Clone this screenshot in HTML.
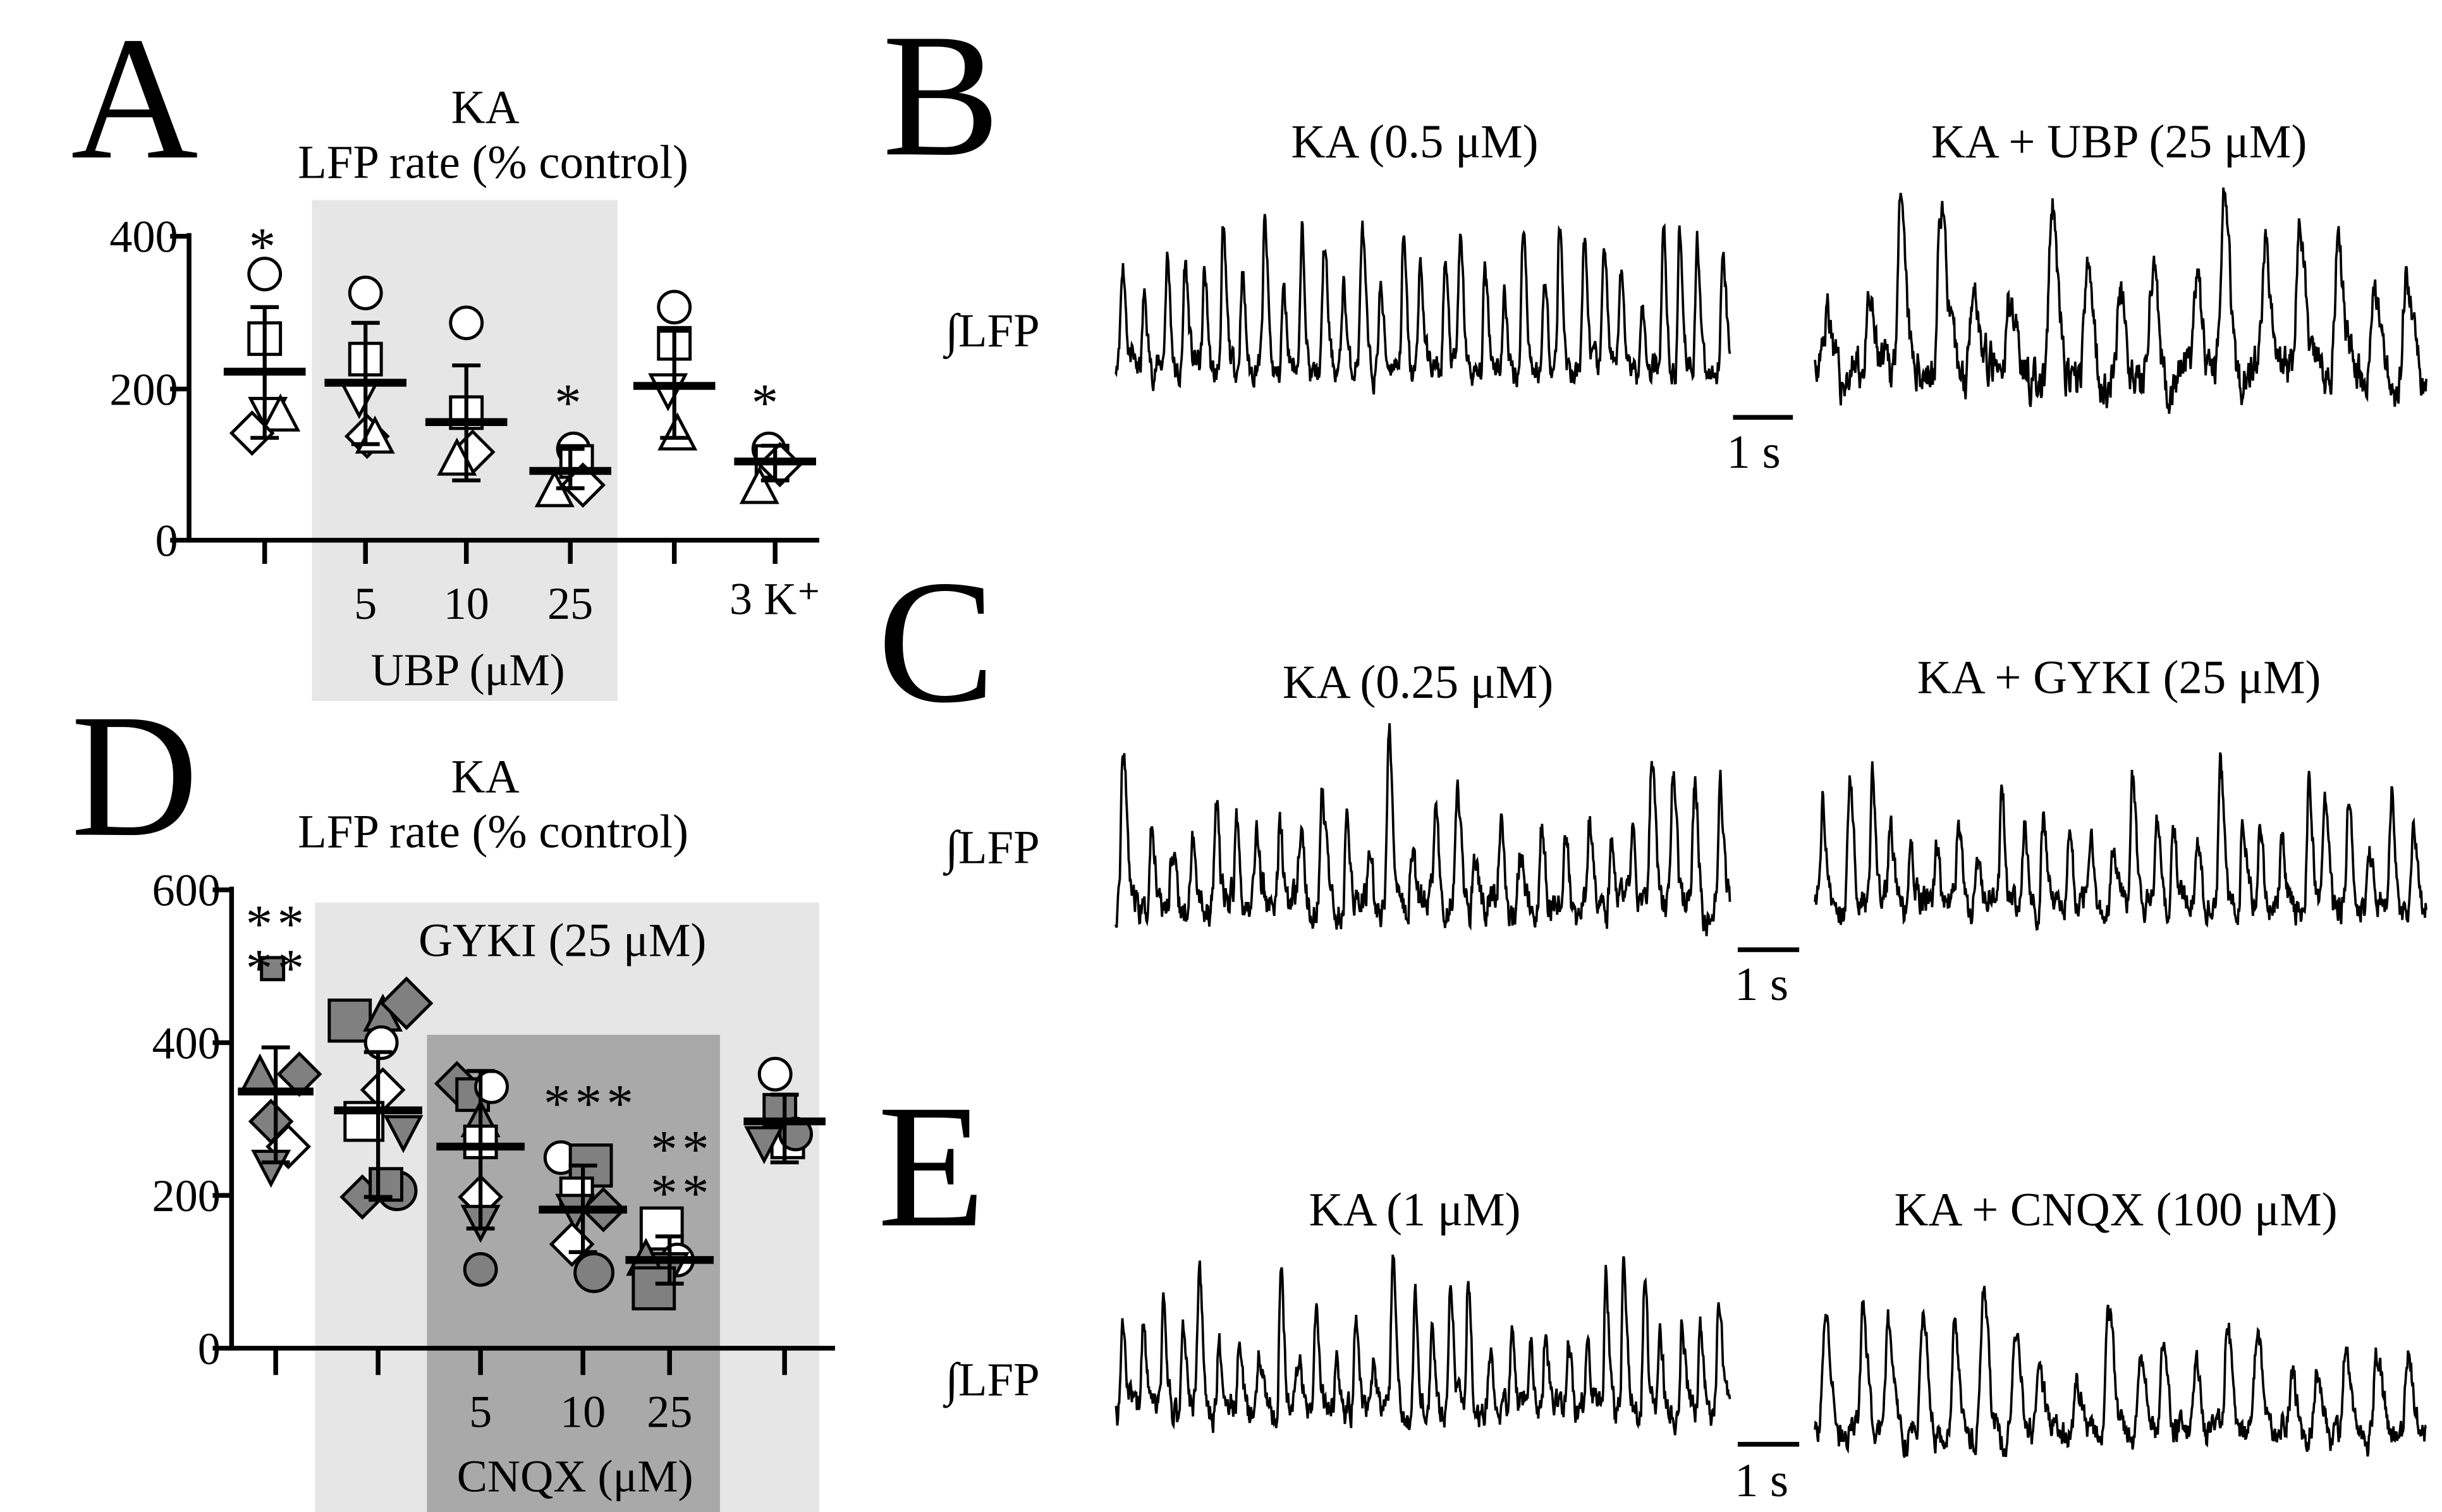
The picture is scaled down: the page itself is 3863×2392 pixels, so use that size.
<!DOCTYPE html>
<html><head><meta charset="utf-8">
<style>html,body{margin:0;padding:0;background:#fff;}svg{display:block;}
text{font-family:"Liberation Serif","Times New Roman",serif;fill:#000;}</style></head>
<body>
<svg id="s" width="3863" height="2392" viewBox="0 0 1550 960" preserveAspectRatio="none" xmlns="http://www.w3.org/2000/svg" font-family="Liberation Serif, serif">
<rect width="1550" height="960" fill="#fff"/>
<text x="45" y="100" font-size="112">A</text>
<text x="308" y="78" font-size="30" text-anchor="middle">KA</text>
<text x="313" y="113" font-size="30" text-anchor="middle">LFP rate (% control)</text>
<rect x="198" y="127" width="194" height="318" fill="#e6e6e6"/>
<g stroke="#000" stroke-width="3" fill="none">
<path d="M120 148V343H520"/>
<path d="M108 150H120M108 247H120M108 343H120"/>
<path d="M168 343V358M232 343V358M296 343V358M362 343V358M428 343V358M492 343V358"/>
</g>
<g font-size="29" text-anchor="end"><text x="113" y="160">400</text><text x="113" y="257">200</text><text x="113" y="353">0</text></g>
<g font-size="29" text-anchor="middle"><text x="232" y="393">5</text><text x="296" y="393">10</text><text x="362" y="393">25</text><text x="492" y="390">3 K⁺</text><text x="297" y="435">UBP (μM)</text></g>
<text x="45" y="530" font-size="112">D</text>
<text x="308" y="503" font-size="30" text-anchor="middle">KA</text>
<text x="313" y="538" font-size="30" text-anchor="middle">LFP rate (% control)</text>
<rect x="200" y="573" width="320" height="387" fill="#e6e6e6"/>
<rect x="271" y="657" width="186" height="303" fill="#a9a9a9"/>
<text x="357" y="607" font-size="30" text-anchor="middle">GYKI (25 μM)</text>
<g stroke="#000" stroke-width="3" fill="none">
<path d="M147 563V856H530"/>
<path d="M135 565H147M135 662H147M135 759H147M135 856H147"/>
<path d="M175 856V873M240 856V873M305 856V873M370 856V873M425 856V873M498 856V873"/>
</g>
<g font-size="29" text-anchor="end"><text x="140" y="575">600</text><text x="140" y="672">400</text><text x="140" y="769">200</text><text x="140" y="866">0</text></g>
<g font-size="29" text-anchor="middle"><text x="305" y="906">5</text><text x="370" y="906">10</text><text x="425" y="906">25</text><text x="365" y="947">CNQX (μM)</text></g>
<g id="marks"></g>
<text x="560" y="98" font-size="112">B</text>
<text x="557" y="445" font-size="112">C</text>
<text x="557" y="778" font-size="112">E</text>
<g font-size="30" text-anchor="middle">
<text x="898" y="100">KA (0.5 μM)</text><text x="1345" y="100">KA + UBP (25 μM)</text>
<text x="900" y="443">KA (0.25 μM)</text><text x="1345" y="440">KA + GYKI (25 μM)</text>
<text x="898" y="778">KA (1 μM)</text><text x="1343" y="778">KA + CNQX (100 μM)</text>
</g>
<g font-size="30"><text x="600" y="220">∫LFP</text><text x="600" y="548">∫LFP</text><text x="600" y="886">∫LFP</text>
<text x="1096" y="297">1 s</text><text x="1101" y="635">1 s</text><text x="1101" y="950">1 s</text></g>
<g stroke="#000" stroke-width="3"><path d="M1100 265H1138M1103 603H1142M1103 917H1142"/></g>
<g id="traces" fill="none" stroke="#000" stroke-width="1.5"></g>
</svg>
<script>
var NS="http://www.w3.org/2000/svg";
var seed=7;function rnd(){seed=(seed*16807)%2147483647;return seed/2147483647;}
function el(p,t,a){var e=document.createElementNS(NS,t);for(var k in a)e.setAttribute(k,a[k]);p.appendChild(e);return e;}
var M=document.getElementById('marks');
function mk(sh,x,y,f,r){r=r||10;var a={fill:f?'#808080':'#fff',stroke:'#000','stroke-width':2};
if(sh=='o'){a.cx=x;a.cy=y;a.r=r;el(M,'circle',a);}
else if(sh=='s'){a.x=x-r;a.y=y-r;a.width=2*r;a.height=2*r;el(M,'rect',a);}
else if(sh=='t'){a.points=(x)+','+(y-r*1.2)+' '+(x-r*1.1)+','+(y+r*0.9)+' '+(x+r*1.1)+','+(y+r*0.9);el(M,'polygon',a);}
else if(sh=='v'){a.points=(x)+','+(y+r*1.2)+' '+(x-r*1.1)+','+(y-r*0.9)+' '+(x+r*1.1)+','+(y-r*0.9);el(M,'polygon',a);}
else if(sh=='d'){r*=1.3;a.points=x+','+(y-r)+' '+(x+r)+','+y+' '+x+','+(y+r)+' '+(x-r)+','+y;el(M,'polygon',a);}}
function bar(x,m,lo,hi,w){el(M,'path',{d:'M'+x+' '+lo+'V'+hi+'M'+(x-9)+' '+lo+'H'+(x+9)+'M'+(x-9)+' '+hi+'H'+(x+9),stroke:'#000','stroke-width':2.5,fill:'none'});
el(M,'path',{d:'M'+(x-w)+' '+m+'H'+(x+w),stroke:'#000','stroke-width':5});}
function star(x,y,s){var t=el(M,'text',{x:x,y:y,'font-size':34,'text-anchor':'middle','letter-spacing':3});t.textContent=s;}
[['o',168,174],['s',168,215],['v',170,262],['t',178,264],['d',160,275]].forEach(function(p){mk(p[0],p[1],p[2],0);});bar(168,236,195,278,26);star(168,168,'*');
[['o',232,186],['s',232,228],['v',228,252],['d',233,277],['t',238,278]].forEach(function(p){mk(p[0],p[1],p[2],0);});bar(232,243,205,282,26);
[['o',296,205],['s',296,262],['d',300,287],['t',290,292]].forEach(function(p){mk(p[0],p[1],p[2],0);});bar(296,268,232,305,26);
[['o',364,285],['s',366,293],['t',352,312],['d',370,308]].forEach(function(p){mk(p[0],p[1],p[2],0);});bar(362,299,285,310,26);star(362,267,'*');
[['o',428,195],['s',428,218],['v',424,247],['t',430,276]].forEach(function(p){mk(p[0],p[1],p[2],0);});bar(428,245,210,278,26);
[['o',488,285],['s',490,293],['t',482,310],['d',495,295]].forEach(function(p){mk(p[0],p[1],p[2],0);});bar(492,293,283,305,26);star(487,267,'*');
[['s',173,615,1,7],['t',165,683,1],['d',190,682,1],['d',172,712,1],['d',183,728,0],['v',172,740,1]].forEach(function(p){mk(p[0],p[1],p[2],p[3],p[4]);});
bar(175,693,665,738,24);star(176,598,'**');star(176,626,'**');
[['s',222,648,1,13],['t',243,645,1],['d',258,637,1,12],['o',242,662,0],['d',243,692,0],['s',231,712,0,12],['v',256,718,1],['d',230,760,1],['o',252,756,1,12],['s',245,752,1]].forEach(function(p){mk(p[0],p[1],p[2],p[3],p[4]);});
bar(240,705,668,760,28);
[['d',290,688,1],['s',300,695,1],['o',312,690,0],['t',305,712,1],['s',305,725,0],['d',305,760,0],['v',305,775,1],['o',305,806,1]].forEach(function(p){mk(p[0],p[1],p[2],p[3],p[4]);});
bar(305,728,680,780,28);
[['o',356,735,0],['s',375,740,1,13],['s',366,758,0],['d',383,768,1],['v',365,768,1],['d',363,790,0],['o',377,808,1,12]].forEach(function(p){mk(p[0],p[1],p[2],p[3],p[4]);});
bar(370,768,740,795,28);star(375,712,'***');
[['s',420,780,0,13],['t',410,800,1],['o',430,800,0],['v',425,805,1],['s',415,818,1,13]].forEach(function(p){mk(p[0],p[1],p[2],p[3],p[4]);});
bar(425,800,785,815,28);star(433,741,'**');star(433,769,'**');
[['o',492,682,0],['s',495,705,1],['s',500,725,0],['v',485,725,1],['o',505,720,1]].forEach(function(p){mk(p[0],p[1],p[2],p[3],p[4]);});
bar(498,712,695,738,26);
var T=document.getElementById('traces');
function trace(x0,x1,top,base,n,irr,s,noise){seed=s;var d='',N=Math.round((x1-x0)*2.5),per=(x1-x0)/n;
var peaks=[];for(var i=0;i<n;i++){peaks.push({c:x0+per*(i+0.5)+(rnd()-0.5)*per*0.3,h:(0.5+rnd()*0.5)*(irr&&rnd()<0.45?0.6:1)});}
var lv=0;
for(var k=0;k<=N;k++){var x=x0+(x1-x0)*k/N,v=0;
peaks.forEach(function(p){var dx=x-p.c;var w=dx<0?per*0.08:per*0.16;v=Math.max(v,p.h*Math.exp(-dx*dx/(2*w*w)));});
lv=0.6*lv+(rnd()-0.5)*noise;v+=lv+0.12+0.05*Math.sin(x*0.3);var y=base-v*(base-top);d+=(k?'L':'M')+x.toFixed(1)+' '+y.toFixed(1);}
el(T,'path',{d:d});}
trace(708,1098,150,246,31,0,11,0.15);trace(1152,1540,125,255,17,1,23,0.17);
trace(708,1098,485,588,28,1,37,0.17);trace(1152,1540,495,585,28,1,41,0.17);
trace(708,1098,812,905,32,1,53,0.17);trace(1152,1540,832,920,20,1,67,0.17);
</script>
</body></html>
